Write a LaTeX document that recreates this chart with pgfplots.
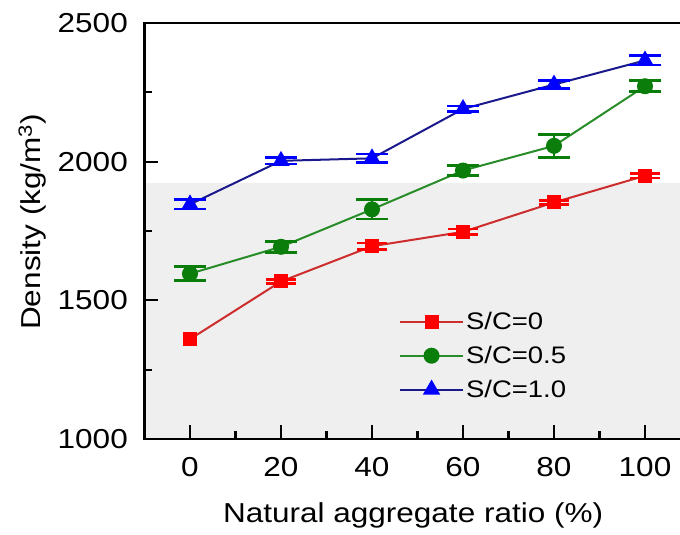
\documentclass[border=0pt]{standalone}
\usepackage{fontspec}
\setmainfont[FakeStretch=1.15]{Liberation Sans}
\usepackage{pgfplots}
\pgfplotsset{compat=1.18}
\usepackage{pgfplotstable}
\definecolor{redline}{RGB}{205,45,45}
\definecolor{redmark}{RGB}{255,0,0}
\definecolor{greenline}{RGB}{40,140,40}
\definecolor{greenmark}{RGB}{10,125,10}
\definecolor{blueline}{RGB}{25,25,140}
\definecolor{bluemark}{RGB}{0,0,255}
\definecolor{bggray}{RGB}{239,239,239}
\pgfplotstableread{
x y e
0 1360 0
20 1568 8
40 1695 12
60 1747 10
80 1853 8
100 1949 8
}\redtab
\pgfplotstableread{
x y e
20 1568 8
40 1695 12
60 1747 10
80 1853 8
100 1949 8
}\rederr
\pgfplotstableread{
x y e
0 1596 25
20 1693 20
40 1828 35
60 1968 18
80 2057 42
100 2272 20
}\greentab
\pgfplotstableread{
x y e
0 1846 17
20 2003 12
40 2012 16
60 2190 10
80 2278 15
100 2365 17
}\bluetab
\begin{document}
\begin{tikzpicture}
\begin{axis}[
  scale only axis,
  width=546bp, height=416bp,
  xmin=-10, xmax=110, ymin=1000, ymax=2500,
  xtick={0,20,40,60,80,100},
  ytick={1000,1500,2000,2500},
  minor x tick num=1, minor y tick num=1,
  tick pos=left,
  tick align=inside,
  major tick length=14bp, minor tick length=8bp,
  axis line style={line width=2.3bp},
  every tick/.style={line width=2.3bp, black},
  axis on top,
  /pgf/number format/assume math mode=true,
  /pgf/number format/1000 sep={},
  tick label style={font=\fontsize{27.5}{32}\selectfont},
  yticklabel style={anchor=east, inner sep=0pt, xshift=-16.5bp},
  xticklabel style={anchor=north, inner sep=0pt, yshift=-18bp},
  xlabel={Natural aggregate ratio (\%)},
  ylabel={Density (kg/m\textsuperscript{3})},
  label style={font=\fontsize{27.5}{32}\selectfont},
  xlabel style={at={(axis description cs:0.492,-0.2019)}, anchor=base, inner sep=0pt},
  ylabel style={at={(axis description cs:-0.1896,0.522)}, anchor=base, inner sep=0pt},
  legend cell align=left,
  legend style={draw=none, fill=none, font=\fontsize{24}{28}\selectfont,
    at={(axis cs:45.9,1464)}, anchor=north west, inner sep=0pt,
    row sep=11bp, /tikz/every even column/.style={column sep=6bp}},
  legend image code/.code={
    \draw[mark repeat=2,mark phase=2,#1] plot coordinates {(0bp,0bp) (31.5bp,0bp) (63bp,0bp)};
  },
]
\fill[bggray] (axis cs:-20,900) rectangle (axis cs:120,1924);
\addplot[redline, line width=2bp, mark=square*, mark size=6bp,
  mark options={redmark, solid, draw=redmark, fill=redmark}]
  table[x=x, y=y] {\redtab};
\addlegendentry{S/C=0}
\addplot[forget plot, only marks, mark=square*, mark size=6bp,
  mark options={redmark, solid, draw=redmark, fill=redmark},
  error bars/.cd, y dir=both, y explicit,
  error bar style={line width=2.6bp, redmark},
  error mark options={rotate=90, mark size=15bp, line width=2.6bp, redmark}]
  table[x=x, y=y, y error=e] {\rederr};
\addplot[greenline, line width=2bp, mark=*, mark size=7bp,
  mark options={greenmark, solid, draw=greenmark, fill=greenmark},
  error bars/.cd, y dir=both, y explicit,
  error bar style={line width=2.6bp, greenmark},
  error mark options={rotate=90, mark size=16bp, line width=2.6bp, greenmark}]
  table[x=x, y=y, y error=e] {\greentab};
\addlegendentry{S/C=0.5}
\addplot[blueline, line width=2bp, mark=triangle*, mark size=8bp,
  mark options={bluemark, solid, draw=bluemark, fill=bluemark},
  error bars/.cd, y dir=both, y explicit,
  error bar style={line width=2.6bp, bluemark},
  error mark options={rotate=90, mark size=16bp, line width=2.6bp, bluemark}]
  table[x=x, y=y, y error=e] {\bluetab};
\addlegendentry{S/C=1.0}
\end{axis}
\pgfresetboundingbox
\path[use as bounding box] (-144.5bp,-96bp) rectangle (535.5bp,439bp);
\end{tikzpicture}
\end{document}
